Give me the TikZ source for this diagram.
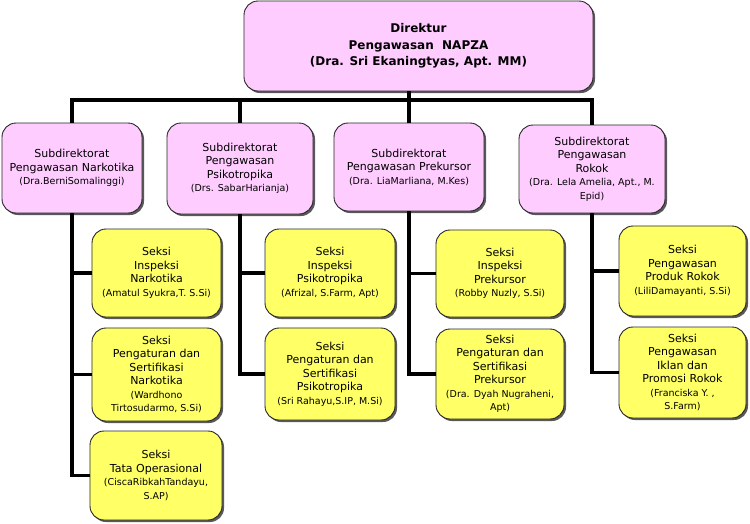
\documentclass[tikz,border=0pt]{standalone}
\usepackage{fontspec}
\setmainfont{DejaVu Sans}
\usetikzlibrary{shadows}
\definecolor{pinkbox}{HTML}{FFCCFF}
\definecolor{yellowbox}{HTML}{FFFF66}
\newcommand{\nm}[1]{{\fontsize{9.5}{13}\selectfont #1}}
\tikzset{
	box/.style={draw=black!85, line width=0.9pt, rounded corners=14pt, inner sep=0pt, align=center,
		font=\fontsize{11}{13.5}\selectfont,
		drop shadow={shadow xshift=2pt, shadow yshift=-2pt, fill=black!65, opacity=1}},
	dirbox/.style={box, fill=pinkbox, font=\bfseries\fontsize{12}{16.5}\selectfont},
	subbox/.style={box, fill=pinkbox},
	seksibox/.style={box, fill=yellowbox},
	boxsize/.style 2 args={minimum width=#1, minimum height=#2},
	link/.style={line width=3.2pt}
}
\begin{document}
\begin{tikzpicture}[x=1pt, y=-1pt]
	\useasboundingbox (0, 0) rectangle (750, 523);
	\node[dirbox, boxsize={349}{90}] (dir) at (418.5, 46) {Direktur\\Pengawasan~~NAPZA\\(Dra. Sri Ekaningtyas, Apt. MM)};
	\node[subbox, boxsize={140}{90}] (s1) at (72, 168) {Subdirektorat\\Pengawasan Narkotika\\\nm{(Dra.BerniSomalinggi)}};
	\node[subbox, boxsize={146}{91}] (s2) at (240, 168.5) {Subdirektorat\\Pengawasan\\Psikotropika\\\nm{(Drs. SabarHarianja)}};
	\node[subbox, boxsize={150}{88}] (s3) at (409, 167) {Subdirektorat\\Pengawasan Prekursor\\\nm{(Dra. LiaMarliana, M.Kes)}};
	\node[subbox, boxsize={146}{88}] (s4) at (592, 169) {Subdirektorat\\Pengawasan\\Rokok\\\nm{(Dra. Lela Amelia, Apt., M.}\\\nm{Epid)}};
	\node[seksibox, boxsize={129}{88}] (n1) at (156.5, 273) {Seksi\\Inspeksi\\Narkotika\\\nm{(Amatul Syukra,T. S.Si)}};
	\node[seksibox, boxsize={129}{93}] (n2) at (156.5, 374.5) {Seksi\\Pengaturan dan\\Sertifikasi\\Narkotika\\\nm{(Wardhono}\\\nm{Tirtosudarmo, S.Si)}};
	\node[seksibox, boxsize={132}{89}] (n3) at (156, 475.5) {Seksi\\Tata Operasional\\\nm{(CiscaRibkahTandayu,}\\\nm{S.AP)}};
	\node[seksibox, boxsize={130}{88}] (p1) at (330, 273) {Seksi\\Inspeksi\\Psikotropika\\\nm{(Afrizal, S.Farm, Apt)}};
	\node[seksibox, boxsize={130}{92}] (p2) at (330, 374) {Seksi\\Pengaturan dan\\Sertifikasi\\Psikotropika\\\nm{(Sri Rahayu,S.IP, M.Si)}};
	\node[seksibox, boxsize={128}{87}] (k1) at (500, 273.5) {Seksi\\Inspeksi\\Prekursor\\\nm{(Robby Nuzly, S.Si)}};
	\node[seksibox, boxsize={128}{90}] (k2) at (500, 374) {Seksi\\Pengaturan dan\\Sertifikasi\\Prekursor\\\nm{(Dra. Dyah Nugraheni,}\\\nm{Apt)}};
	\node[seksibox, boxsize={127}{90}] (r1) at (682.5, 271) {Seksi\\Pengawasan\\Produk Rokok\\\nm{(LiliDamayanti, S.Si)}};
	\node[seksibox, boxsize={127}{91}] (r2) at (682.5, 372.5) {Seksi\\Pengawasan\\Iklan dan\\Promosi Rokok\\\nm{(Franciska Y. ,}\\\nm{S.Farm)}};
	\coordinate (bus) at (409, 100);
	\draw[link] (s1.north) |- (bus) -| (s4.north);
	\draw[link] (s2.north) -- (s2.north |- bus);
	\draw[link] (dir.south -| bus) -- (s3.north);
	\draw[link] (s1.south) |- (n3.west);
	\draw[link] (s1.south |- n1.west) -- (n1.west);
	\draw[link] (s1.south |- n2.west) -- (n2.west);
	\draw[link] (s2.south) |- (p2.west);
	\draw[link] (s2.south |- p1.west) -- (p1.west);
	\draw[link] (s3.south) |- (k2.west);
	\draw[link] (s3.south |- k1.west) -- (k1.west);
	\draw[link] (s4.south) |- (r2.west);
	\draw[link] (s4.south |- r1.west) -- (r1.west);
\end{tikzpicture}
\end{document}
